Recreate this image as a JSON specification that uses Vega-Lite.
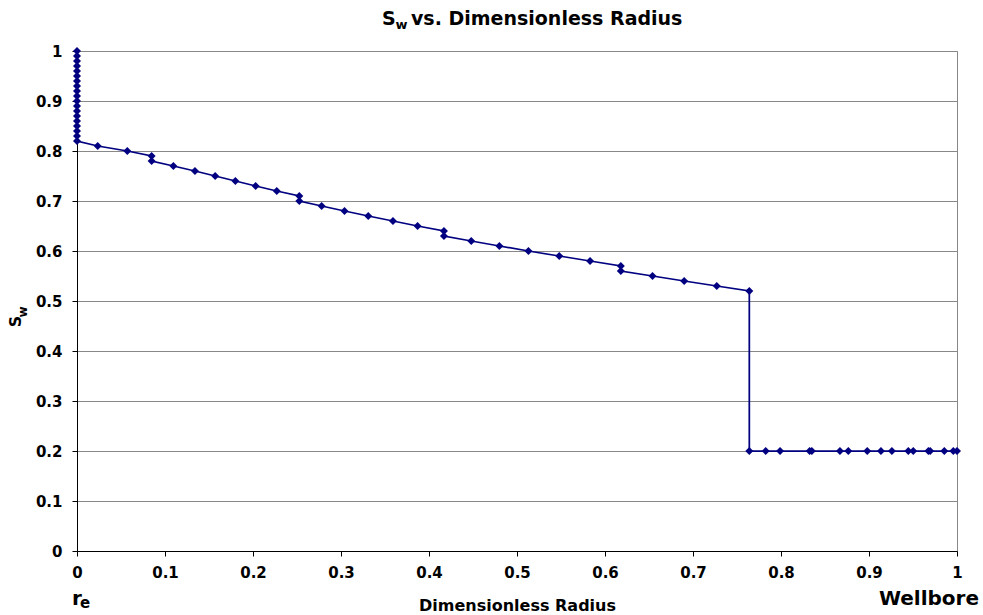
{
  "$schema": "https://vega.github.io/schema/vega-lite/v6.json",
  "width": 880,
  "height": 500,
  "autosize": "none",
  "padding": {"left": 77, "top": 51, "right": 26, "bottom": 64},
  "background": "white",
  "config": {
    "view": {"stroke": "#888888", "strokeWidth": 1},
    "font": "DejaVu Sans",
    "text": {"font": "DejaVu Sans", "fontWeight": "bold", "color": "black"}
  },
  "datasets": {
    "sw": [
      {"ord": 1, "r": 0, "sw": 1.0},
      {"ord": 2, "r": 0, "sw": 0.99},
      {"ord": 3, "r": 0, "sw": 0.98},
      {"ord": 4, "r": 0, "sw": 0.97},
      {"ord": 5, "r": 0, "sw": 0.96},
      {"ord": 6, "r": 0, "sw": 0.95},
      {"ord": 7, "r": 0, "sw": 0.94},
      {"ord": 8, "r": 0, "sw": 0.93},
      {"ord": 9, "r": 0, "sw": 0.92},
      {"ord": 10, "r": 0, "sw": 0.91},
      {"ord": 11, "r": 0, "sw": 0.90},
      {"ord": 12, "r": 0, "sw": 0.89},
      {"ord": 13, "r": 0, "sw": 0.88},
      {"ord": 14, "r": 0, "sw": 0.87},
      {"ord": 15, "r": 0, "sw": 0.86},
      {"ord": 16, "r": 0, "sw": 0.85},
      {"ord": 17, "r": 0, "sw": 0.84},
      {"ord": 18, "r": 0, "sw": 0.83},
      {"ord": 19, "r": 0, "sw": 0.82},
      {"ord": 20, "r": 0.0235, "sw": 0.81},
      {"ord": 21, "r": 0.0572, "sw": 0.80},
      {"ord": 22, "r": 0.0848, "sw": 0.79},
      {"ord": 23, "r": 0.0848, "sw": 0.78},
      {"ord": 24, "r": 0.1095, "sw": 0.77},
      {"ord": 25, "r": 0.134, "sw": 0.76},
      {"ord": 26, "r": 0.157, "sw": 0.75},
      {"ord": 27, "r": 0.180, "sw": 0.74},
      {"ord": 28, "r": 0.203, "sw": 0.73},
      {"ord": 29, "r": 0.227, "sw": 0.72},
      {"ord": 30, "r": 0.2526, "sw": 0.71},
      {"ord": 31, "r": 0.2526, "sw": 0.70},
      {"ord": 32, "r": 0.278, "sw": 0.69},
      {"ord": 33, "r": 0.304, "sw": 0.68},
      {"ord": 34, "r": 0.331, "sw": 0.67},
      {"ord": 35, "r": 0.359, "sw": 0.66},
      {"ord": 36, "r": 0.387, "sw": 0.65},
      {"ord": 37, "r": 0.417, "sw": 0.64},
      {"ord": 38, "r": 0.417, "sw": 0.63},
      {"ord": 39, "r": 0.448, "sw": 0.62},
      {"ord": 40, "r": 0.480, "sw": 0.61},
      {"ord": 41, "r": 0.513, "sw": 0.60},
      {"ord": 42, "r": 0.548, "sw": 0.59},
      {"ord": 43, "r": 0.583, "sw": 0.58},
      {"ord": 44, "r": 0.618, "sw": 0.57},
      {"ord": 45, "r": 0.618, "sw": 0.56},
      {"ord": 46, "r": 0.654, "sw": 0.55},
      {"ord": 47, "r": 0.690, "sw": 0.54},
      {"ord": 48, "r": 0.727, "sw": 0.53},
      {"ord": 49, "r": 0.764, "sw": 0.52},
      {"ord": 50, "r": 0.764, "sw": 0.20},
      {"ord": 51, "r": 0.7826, "sw": 0.20},
      {"ord": 52, "r": 0.7989, "sw": 0.20},
      {"ord": 53, "r": 0.8325, "sw": 0.20},
      {"ord": 54, "r": 0.835, "sw": 0.20},
      {"ord": 55, "r": 0.867, "sw": 0.20},
      {"ord": 56, "r": 0.8765, "sw": 0.20},
      {"ord": 57, "r": 0.898, "sw": 0.20},
      {"ord": 58, "r": 0.9136, "sw": 0.20},
      {"ord": 59, "r": 0.926, "sw": 0.20},
      {"ord": 60, "r": 0.9447, "sw": 0.20},
      {"ord": 61, "r": 0.9503, "sw": 0.20},
      {"ord": 62, "r": 0.9675, "sw": 0.20},
      {"ord": 63, "r": 0.9695, "sw": 0.20},
      {"ord": 64, "r": 0.9856, "sw": 0.20},
      {"ord": 65, "r": 0.9958, "sw": 0.20},
      {"ord": 66, "r": 1.0, "sw": 0.20}
    ]
  },
  "layer": [
    {
      "data": {"name": "sw"},
      "mark": {
        "type": "line",
        "color": "#000080",
        "strokeWidth": 1.75,
        "point": {"shape": "diamond", "size": 64, "filled": true, "color": "#000080", "opacity": 1}
      },
      "encoding": {
        "x": {
          "field": "r",
          "type": "quantitative",
          "title": "Dimensionless Radius",
          "scale": {"domain": [0, 1], "nice": false, "zero": false},
          "axis": {
            "values": [0, 0.1, 0.2, 0.3, 0.4, 0.5, 0.6, 0.7, 0.8, 0.9, 1],
            "format": "~g",
            "grid": false,
            "domainColor": "black",
            "tickColor": "black",
            "tickSize": 5,
            "labelFont": "DejaVu Sans",
            "labelFontWeight": "bold",
            "labelFontSize": 15,
            "labelColor": "black",
            "labelPadding": 9,
            "labelFlush": false,
            "labelOverlap": false,
            "titleFont": "DejaVu Sans",
            "titleFontWeight": "bold",
            "titleFontSize": 16,
            "titleColor": "black",
            "titlePadding": 17
          }
        },
        "y": {
          "field": "sw",
          "type": "quantitative",
          "title": null,
          "scale": {"domain": [0, 1], "nice": false, "zero": false},
          "axis": {
            "values": [0, 0.1, 0.2, 0.3, 0.4, 0.5, 0.6, 0.7, 0.8, 0.9, 1],
            "format": "~g",
            "grid": true,
            "gridColor": "#888888",
            "gridWidth": 1,
            "gridOpacity": 1,
            "domainColor": "black",
            "tickColor": "black",
            "tickSize": 5,
            "labelFont": "DejaVu Sans",
            "labelFontWeight": "bold",
            "labelFontSize": 15,
            "labelColor": "black",
            "labelPadding": 10,
            "labelOverlap": false
          }
        },
        "order": {"field": "ord", "type": "quantitative"}
      }
    },
    {
      "data": {"values": [
        {"t": "S", "r": 0.3466, "sw": 1.052},
        {"t": "vs. Dimensionless Radius", "r": 0.3795, "sw": 1.052}
      ]},
      "mark": {"type": "text", "fontSize": 19, "align": "left", "baseline": "alphabetic"},
      "encoding": {
        "x": {"field": "r", "type": "quantitative", "title": "Dimensionless Radius"},
        "y": {"field": "sw", "type": "quantitative", "title": null},
        "text": {"field": "t"}
      }
    },
    {
      "data": {"values": [
        {"t": "w", "r": 0.3618, "sw": 1.044}
      ]},
      "mark": {"type": "text", "fontSize": 13, "align": "left", "baseline": "alphabetic"},
      "encoding": {
        "x": {"field": "r", "type": "quantitative", "title": "Dimensionless Radius"},
        "y": {"field": "sw", "type": "quantitative", "title": null},
        "text": {"field": "t"}
      }
    },
    {
      "data": {"values": [
        {"t": "S", "r": -0.064, "sw": 0.459}
      ]},
      "mark": {"type": "text", "fontSize": 16, "align": "center", "baseline": "alphabetic", "angle": 270},
      "encoding": {
        "x": {"field": "r", "type": "quantitative", "title": "Dimensionless Radius"},
        "y": {"field": "sw", "type": "quantitative", "title": null},
        "text": {"field": "t"}
      }
    },
    {
      "data": {"values": [
        {"t": "w", "r": -0.0565, "sw": 0.478}
      ]},
      "mark": {"type": "text", "fontSize": 12, "align": "center", "baseline": "alphabetic", "angle": 270},
      "encoding": {
        "x": {"field": "r", "type": "quantitative", "title": "Dimensionless Radius"},
        "y": {"field": "sw", "type": "quantitative", "title": null},
        "text": {"field": "t"}
      }
    },
    {
      "data": {"values": [
        {"t": "r", "r": -0.0057, "sw": -0.108}
      ]},
      "mark": {"type": "text", "fontSize": 20, "align": "left", "baseline": "alphabetic"},
      "encoding": {
        "x": {"field": "r", "type": "quantitative", "title": "Dimensionless Radius"},
        "y": {"field": "sw", "type": "quantitative", "title": null},
        "text": {"field": "t"}
      }
    },
    {
      "data": {"values": [
        {"t": "e", "r": 0.0034, "sw": -0.1135}
      ]},
      "mark": {"type": "text", "fontSize": 15, "align": "left", "baseline": "alphabetic"},
      "encoding": {
        "x": {"field": "r", "type": "quantitative", "title": "Dimensionless Radius"},
        "y": {"field": "sw", "type": "quantitative", "title": null},
        "text": {"field": "t"}
      }
    },
    {
      "data": {"values": [
        {"t": "Wellbore", "r": 1.0, "sw": -0.108}
      ]},
      "mark": {"type": "text", "fontSize": 20, "align": "right", "baseline": "alphabetic", "dx": 22},
      "encoding": {
        "x": {"field": "r", "type": "quantitative", "title": "Dimensionless Radius"},
        "y": {"field": "sw", "type": "quantitative", "title": null},
        "text": {"field": "t"}
      }
    }
  ]
}
